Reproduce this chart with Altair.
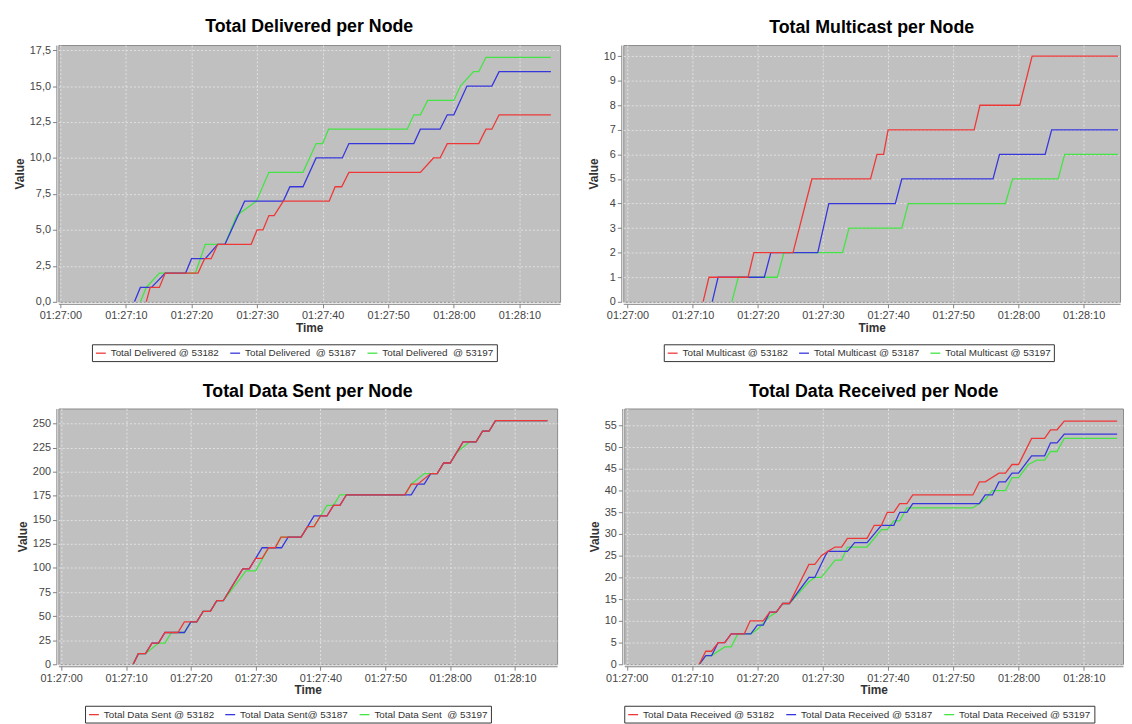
import altair as alt
import pandas as pd

FONT = "Liberation Sans"
COLORS = ["#EE3838", "#3636DD", "#44E444"]

# ---------------- data (seconds after 01:27:00, value) ----------------
# Panel 1: Total Delivered
del_labels = ["Total Delivered @ 53182", "Total Delivered\u00a0 @ 53187", "Total Delivered\u00a0 @ 53197"]
del_red_t = [13.1, 13.7, 15.1, 16.0, 21.0, 22.0, 23.0, 24.0, 29.1, 30.0, 30.9, 31.8, 32.6, 34.0, 41.0, 41.9, 42.9, 44.0, 54.9, 56.9, 57.9, 59.0, 63.8, 64.9, 65.8, 66.9, 74.8]
del_red_v = [0, 1, 1, 2, 2, 3, 3, 4, 4, 5, 5, 6, 6, 7, 7, 8, 8, 9, 9, 10, 10, 11, 11, 12, 12, 13, 13]
del_blue_t = [11.3, 12.2, 13.9, 16.0, 19.1, 20.0, 22.1, 24.0, 25.1, 28.1, 34.0, 35.0, 37.0, 39.0, 43.0, 44.0, 53.9, 54.9, 57.9, 59.0, 60.0, 62.0, 65.8, 66.9, 74.8]
del_blue_v = [0, 1, 1, 2, 2, 3, 3, 4, 4, 7, 7, 8, 8, 10, 10, 11, 11, 12, 12, 13, 13, 15, 15, 16, 16]
del_green_t = [12.2, 13.1, 15.1, 16.0, 20.6, 22.1, 24.0, 25.1, 26.9, 29.9, 31.8, 37.0, 39.0, 40.0, 40.9, 52.9, 53.9, 54.9, 56.0, 60.0, 61.0, 63.0, 63.8, 64.9, 74.8]
del_green_v = [0, 1, 2, 2, 2, 4, 4, 4, 6, 7, 9, 9, 11, 11, 12, 12, 13, 13, 14, 14, 15, 16, 16, 17, 17]

# Panel 2: Total Multicast
mc_labels = ["Total Multicast @ 53182", "Total Multicast @ 53187", "Total Multicast @ 53197"]
mc_red_t = [11.6, 12.5, 18.5, 19.4, 25.4, 28.3, 37.3, 38.3, 39.3, 40.0, 53.2, 54.1, 60.2, 62.1, 75.3]
mc_red_v = [0, 1, 1, 2, 2, 5, 5, 6, 6, 7, 7, 8, 8, 10, 10]
mc_blue_t = [13.0, 13.9, 21.0, 22.0, 29.2, 30.9, 41.1, 42.1, 56.1, 57.1, 64.1, 65.1, 75.3]
mc_blue_v = [0, 1, 1, 2, 2, 4, 4, 5, 5, 6, 6, 7, 7]
mc_green_t = [16.0, 17.0, 23.0, 24.0, 33.0, 34.0, 42.1, 43.1, 58.0, 59.1, 66.1, 67.1, 75.3]
mc_green_v = [0, 1, 1, 2, 2, 3, 3, 4, 4, 5, 5, 6, 6]

# Panel 3: Total Data Sent
ds_labels = ["Total Data Sent @ 53182", "Total Data Sent@ 53187", "Total Data Sent\u00a0 @ 53197"]
ds_red_t = [11.1, 11.9, 13.0, 14.0, 15.0, 16.0, 18.0, 19.0, 20.9, 21.9, 23.0, 24.0, 25.0, 28.0, 29.0, 30.0, 31.0, 32.0, 33.0, 33.9, 37.0, 38.0, 39.0, 40.0, 41.0, 42.0, 43.0, 44.0, 53.0, 54.0, 55.0, 57.0, 58.0, 59.0, 60.0, 62.0, 64.0, 65.0, 66.0, 67.0, 75.0]
ds_red_v = [0, 11, 11, 22, 22, 33, 33, 44, 44, 55, 55, 66, 66, 99, 99, 110, 110, 121, 121, 132, 132, 143, 143, 154, 154, 165, 165, 176, 176, 187, 187, 198, 198, 209, 209, 231, 231, 242, 242, 253, 253]
ds_blue_t = [11.1, 11.9, 13.0, 14.0, 15.0, 16.0, 19.0, 20.0, 20.9, 21.9, 23.0, 24.0, 25.0, 28.0, 29.0, 30.0, 31.0, 34.0, 35.0, 37.0, 38.0, 39.0, 41.0, 42.0, 43.0, 44.0, 54.0, 55.0, 56.0, 57.0, 58.0, 59.0, 60.0, 62.0, 64.0, 65.0, 66.0, 67.0, 75.0]
ds_blue_v = [0, 11, 11, 22, 22, 33, 33, 44, 44, 55, 55, 66, 66, 99, 99, 110, 121, 121, 132, 132, 143, 154, 154, 165, 165, 176, 176, 187, 187, 198, 198, 209, 209, 231, 231, 242, 242, 253, 253]
ds_green_t = [11.1, 11.9, 13.0, 15.0, 16.0, 17.0, 19.0, 20.0, 20.9, 21.9, 23.0, 24.0, 25.0, 27.5, 28.5, 30.0, 32.0, 33.0, 33.9, 37.0, 38.0, 39.0, 40.0, 41.0, 42.0, 43.0, 53.0, 54.0, 56.0, 58.0, 59.0, 60.0, 61.0, 63.0, 64.0, 65.0, 66.0, 67.0, 75.0]
ds_green_v = [0, 11, 11, 22, 22, 33, 33, 44, 44, 55, 55, 66, 66, 88, 97, 97, 121, 121, 132, 132, 143, 143, 154, 165, 165, 176, 176, 187, 198, 198, 209, 209, 220, 231, 231, 242, 242, 253, 253]

# Panel 4: Total Data Received
dr_labels = ["Total Data Received @ 53182", "Total Data Received @ 53187", "Total Data Received @ 53197"]
dr_red_t = [11.1, 12.1, 13.0, 14.0, 15.0, 16.0, 18.0, 18.9, 20.9, 21.9, 22.9, 23.9, 24.9, 27.9, 28.8, 29.8, 30.8, 31.9, 32.9, 33.8, 36.8, 37.9, 39.0, 39.9, 40.9, 41.8, 42.9, 43.8, 53.0, 54.0, 54.9, 57.0, 58.0, 59.0, 60.0, 62.0, 64.0, 64.9, 65.9, 67.0, 75.1]
dr_red_v = [0, 3, 3, 5, 5, 7, 7, 10, 10, 12, 12, 14, 14, 23, 23, 25, 26, 27, 27, 29, 29, 32, 32, 35, 35, 37, 37, 39, 39, 42, 42, 44, 44, 46, 46, 52, 52, 54, 54, 56, 56]
dr_blue_t = [11.1, 12.1, 13.0, 14.0, 15.0, 16.0, 19.0, 20.0, 20.9, 21.9, 22.9, 23.9, 24.9, 27.9, 28.8, 30.4, 30.8, 33.8, 34.9, 36.8, 39.0, 40.9, 41.8, 42.9, 43.8, 54.0, 54.9, 56.0, 57.0, 58.0, 59.0, 60.0, 62.0, 64.0, 64.9, 65.9, 67.0, 75.1]
dr_blue_v = [0, 2, 2, 5, 5, 7, 7, 9, 9, 12, 12, 14, 14, 20, 20, 25, 26, 26, 28, 28, 32, 32, 35, 35, 37, 37, 39, 39, 42, 42, 44, 44, 48, 48, 51, 51, 53, 53]
dr_green_t = [11.1, 12.1, 13.0, 15.0, 16.0, 17.0, 19.0, 20.0, 21.9, 22.9, 23.9, 24.9, 27.9, 28.8, 29.8, 31.9, 32.9, 33.8, 36.8, 39.0, 39.9, 40.9, 41.8, 42.9, 53.0, 54.9, 56.0, 58.0, 59.0, 60.0, 61.5, 62.8, 64.0, 64.9, 65.9, 67.0, 75.1]
dr_green_v = [0, 2, 2, 4, 4, 7, 7, 8, 11, 12, 14, 14, 19, 20, 20, 24, 24, 27, 27, 31, 31, 33, 33, 36, 36, 38, 40, 40, 43, 43, 46, 47, 47, 49, 49, 52, 52]

# x tick labels (every 10 s)
x_tick_seconds = [0, 10, 20, 30, 40, 50, 60, 70]


def iso(sec):
    total_ms = int(round((3600 + 27 * 60 + sec) * 1000))
    h = total_ms // 3600000
    m = (total_ms // 60000) % 60
    s = (total_ms // 1000) % 60
    ms = total_ms % 1000
    return "2013-01-01T%02d:%02d:%02d.%03d" % (h, m, s, ms)


def dt(sec):
    total_ms = int(round((3600 + 27 * 60 + sec) * 1000))
    return alt.DateTime(year=2013, month=1, date=1,
                        hours=total_ms // 3600000,
                        minutes=(total_ms // 60000) % 60,
                        seconds=(total_ms // 1000) % 60,
                        milliseconds=total_ms % 1000)


def panel(title, labels, series, xdom, ydom, yvals, ylabel_expr, width, height, lx, ly):
    rows = []
    # green first, red last, so that the first series is drawn on top
    for lab, (ts, vs) in reversed(list(zip(labels, series))):
        for t, v in zip(ts, vs):
            rows.append({"time": iso(t), "value": v, "series": lab})
    df = pd.DataFrame(rows)
    x_axis = alt.Axis(
        values=[dt(s) for s in x_tick_seconds], format="%H:%M:%S", title="Time",
        offset=2, tickSize=4, labelPadding=2, titlePadding=2,
        labelFlush=False, labelOverlap=False,
    )
    y_axis_kwargs = dict(values=yvals, title="Value", offset=2, tickSize=4,
                         labelPadding=2, titlePadding=3)
    if ylabel_expr:
        y_axis_kwargs["labelExpr"] = ylabel_expr
    else:
        y_axis_kwargs["format"] = "d"
    return alt.Chart(df).mark_line(strokeWidth=1.3, clip=True).encode(
        x=alt.X("time:T", scale=alt.Scale(domain=[dt(xdom[0]), dt(xdom[1])]), axis=x_axis),
        y=alt.Y("value:Q", scale=alt.Scale(domain=ydom, nice=False, zero=False),
                axis=alt.Axis(**y_axis_kwargs)),
        color=alt.Color("series:N", scale=alt.Scale(domain=labels, range=COLORS),
                        legend=alt.Legend(
                            orient="none", legendX=lx, legendY=ly, direction="horizontal",
                            title=None, symbolType="stroke", symbolSize=100,
                            symbolStrokeWidth=1.3, labelFont=FONT, labelFontSize=10,
                            labelColor="#333", padding=3, strokeColor="#333",
                            fillColor="white", columnPadding=8, labelOffset=4,
                            labelLimit=400)),
    ).properties(
        width=width, height=height,
        title=alt.TitleParams(text=title, font=FONT, fontSize=18, fontWeight="bold",
                              color="black", offset=8, anchor="middle"),
    )


p1 = panel("Total Delivered per Node", del_labels,
           [(del_red_t, del_red_v), (del_blue_t, del_blue_v), (del_green_t, del_green_v)],
           (-0.3, 76.2), [0, 17.85], [0, 2.5, 5, 7.5, 10, 12.5, 15, 17.5],
           "replace(format(datum.value, '.1f'), '.', ',')", 508, 260, 34, 303)
p2 = panel("Total Multicast per Node", mc_labels,
           [(mc_red_t, mc_red_v), (mc_blue_t, mc_blue_v), (mc_green_t, mc_green_v)],
           (-0.65, 75.6), [0, 10.45], list(range(0, 11)), None, 503, 260, 41, 303)
p3 = panel("Total Data Sent per Node", ds_labels,
           [(ds_red_t, ds_red_v), (ds_blue_t, ds_blue_v), (ds_green_t, ds_green_v)],
           (-0.44, 76.5), [0, 265.6], list(range(0, 251, 25)), None, 505, 259, 27, 301)
p4 = panel("Total Data Received per Node", dr_labels,
           [(dr_red_t, dr_red_v), (dr_blue_t, dr_blue_v), (dr_green_t, dr_green_v)],
           (-0.38, 76.0), [0, 58.9], list(range(0, 56, 5)), None, 505, 259, 0, 301)

row1 = alt.hconcat(p1, p2, spacing=26).resolve_scale(color="independent").resolve_legend(color="independent")
row2 = alt.hconcat(p3, p4, spacing=30).resolve_scale(color="independent").resolve_legend(color="independent")

chart = alt.vconcat(row1, row2, spacing=20).resolve_scale(
    color="independent"
).resolve_legend(color="independent").properties(
    padding={"left": 5, "top": 5, "right": 0, "bottom": 0},
    background="white",
).configure_view(
    fill="#c0c0c0", stroke="#8a8a8a", strokeWidth=1,
).configure_axis(
    labelFont=FONT, labelFontSize=11, labelColor="#444",
    titleFont=FONT, titleFontSize=12, titleFontWeight="bold", titleColor="#333",
    domainColor="#808080", tickColor="#808080", grid=True,
    gridColor="#e2e2e2", gridDash=[2, 2], gridWidth=1,
)

chart.save("out.html", embed_options={"renderer": "svg", "actions": False})
